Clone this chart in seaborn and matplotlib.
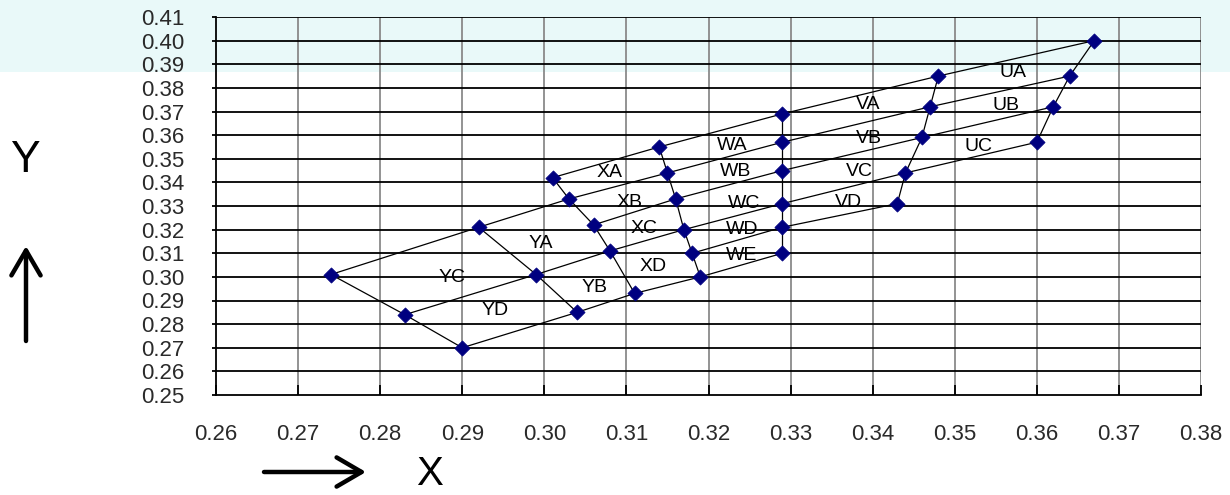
import numpy as np
import pandas as pd
import matplotlib
matplotlib.use('Agg')
import matplotlib.pyplot as plt
from matplotlib.patches import Rectangle
import seaborn as sns

# ─── DATA ─────────────────────────────────────────────────────────────────────
# bin boundary edges, left -> right, points listed top -> bottom (x, y)
edge_1 = [(0.274, 0.301), (0.283, 0.284), (0.290, 0.270)]
edge_2 = [(0.292, 0.321), (0.299, 0.301), (0.304, 0.285)]
edge_3 = [(0.301, 0.342), (0.303, 0.333), (0.306, 0.322), (0.308, 0.311), (0.311, 0.293)]
edge_4 = [(0.314, 0.355), (0.315, 0.344), (0.316, 0.333), (0.317, 0.320), (0.318, 0.310), (0.319, 0.300)]
edge_5 = [(0.329, 0.369), (0.329, 0.357), (0.329, 0.345), (0.329, 0.331), (0.329, 0.321), (0.329, 0.310)]
edge_6 = [(0.348, 0.385), (0.347, 0.372), (0.346, 0.359), (0.344, 0.344), (0.343, 0.331)]
edge_7 = [(0.367, 0.400), (0.364, 0.385), (0.362, 0.372), (0.360, 0.357)]
EDGES = [edge_1, edge_2, edge_3, edge_4, edge_5, edge_6, edge_7]

# row lines run across the edges: (edge number, point index)
row_lines = [
    [(3, 0), (4, 0), (5, 0), (6, 0), (7, 0)],
    [(1, 0), (2, 0), (3, 1), (4, 1), (5, 1), (6, 1), (7, 1)],
    [(3, 2), (4, 2), (5, 2), (6, 2), (7, 2)],
    [(1, 1), (2, 1), (3, 3), (4, 3), (5, 3), (6, 3), (7, 3)],
    [(4, 4), (5, 4), (6, 4)],
    [(1, 2), (2, 2), (3, 4), (4, 5), (5, 5)],
]

bin_names = ["UA", "UB", "UC",
             "VA", "VB", "VC", "VD",
             "WA", "WB", "WC", "WD", "WE",
             "XA", "XB", "XC", "XD",
             "YA", "YB", "YC", "YD"]
bin_x = [0.3571, 0.3563, 0.3529,
         0.3395, 0.3395, 0.3384, 0.3371,
         0.3229, 0.3233, 0.3243, 0.3241, 0.3240,
         0.3080, 0.3104, 0.3121, 0.3132,
         0.2996, 0.3061, 0.2888, 0.2940]
bin_y = [0.3863, 0.3727, 0.3553,
         0.3731, 0.3587, 0.3447, 0.3316,
         0.3558, 0.3447, 0.3312, 0.3202, 0.3092,
         0.3443, 0.3316, 0.3206, 0.3045,
         0.3142, 0.2956, 0.2998, 0.2858]

x_ticks = np.round(np.arange(0.26, 0.3801, 0.01), 2)
y_ticks = np.round(np.arange(0.25, 0.4101, 0.01), 2)

# ─── BUILD FRAMES ─────────────────────────────────────────────────────────────
seg_rows = []
for k, edge in enumerate(EDGES):
    for i, (x, y) in enumerate(edge):
        seg_rows.append({"seg": f"edge{k}", "order": i, "x": x, "y": y})
for k, chain in enumerate(row_lines):
    for i, (e, j) in enumerate(chain):
        x, y = EDGES[e - 1][j]
        seg_rows.append({"seg": f"row{k}", "order": i, "x": x, "y": y})
segs = pd.DataFrame(seg_rows)

pts = pd.DataFrame([p for edge in EDGES for p in edge], columns=["x", "y"])

# ─── PLOT ─────────────────────────────────────────────────────────────────────
sns.set_theme(style="white")
plt.rcParams['font.family'] = ['Liberation Sans', 'DejaVu Sans']

fig = plt.figure(figsize=(12.3, 4.95), dpi=100)
fig.patches.append(Rectangle((0, 1 - 72 / 495), 1, 72 / 495, transform=fig.transFigure,
                             facecolor="#E9F9F9", edgecolor="none", zorder=-10))
ax = fig.add_axes([216 / 1230, 1 - 395 / 495, (1201 - 216) / 1230, (395 - 17) / 495])
ax.patch.set_alpha(0)

ax.set_xlim(0.26, 0.38)
ax.set_ylim(0.25, 0.41)
ax.set_xticks(x_ticks)
ax.set_yticks(y_ticks)
ax.set_xticklabels([f"{v:.2f}" for v in x_ticks])
ax.set_yticklabels([f"{v:.2f}" for v in y_ticks])

for v in x_ticks[1:]:
    ax.axvline(v, color="#8a8a8a", lw=1.3, zorder=0)
for v in y_ticks[1:]:
    ax.axhline(v, color="black", lw=1.3, zorder=0)

sns.lineplot(data=segs, x="x", y="y", units="seg", estimator=None, sort=False,
             color="black", lw=0.9, ax=ax, zorder=2)
sns.scatterplot(data=pts, x="x", y="y", marker="D", s=60, color="#000080",
                edgecolor="#000080", linewidth=0.5, ax=ax, zorder=3)

for name, x, y in zip(bin_names, bin_x, bin_y):
    ax.text(x, y, name, fontsize=14, ha="center", va="center", color="black", zorder=4)

for side in ["top", "right"]:
    ax.spines[side].set_visible(False)
ax.spines["left"].set_color("black")
ax.spines["bottom"].set_color("black")
ax.spines["left"].set_linewidth(1.3)
ax.spines["bottom"].set_linewidth(1.3)
ax.tick_params(axis="x", direction="in", length=7, width=1.3, color="black",
               pad=21, labelsize=16, labelcolor="#2a2a2a", bottom=True)
ax.tick_params(axis="y", direction="out", length=3, width=1.3, color="black",
               pad=20, labelsize=16, labelcolor="#2a2a2a", left=True)
ax.set_xlabel("")
ax.set_ylabel("")

# axis arrows and letters
fig.text(25 / 1230, 1 - 160 / 495, "Y", fontsize=32, ha="center", va="center", color="black")
fig.text(430 / 1230, 1 - 493 / 495, "X", fontsize=29, ha="center", va="bottom", color="black")
ax.annotate("", xy=(26 / 1230, 1 - 246 / 495), xytext=(26 / 1230, 1 - 341 / 495),
            xycoords="figure fraction", textcoords="figure fraction",
            arrowprops=dict(arrowstyle="->,head_length=0.6,head_width=0.35", lw=3.2,
                            color="black", mutation_scale=30, shrinkA=0, shrinkB=0))
ax.annotate("", xy=(366 / 1230, 1 - 472 / 495), xytext=(264 / 1230, 1 - 472 / 495),
            xycoords="figure fraction", textcoords="figure fraction",
            arrowprops=dict(arrowstyle="->,head_length=0.6,head_width=0.35", lw=3.2,
                            color="black", mutation_scale=30, shrinkA=0, shrinkB=0))

plt.savefig("out.png", dpi=100)
plt.close()
